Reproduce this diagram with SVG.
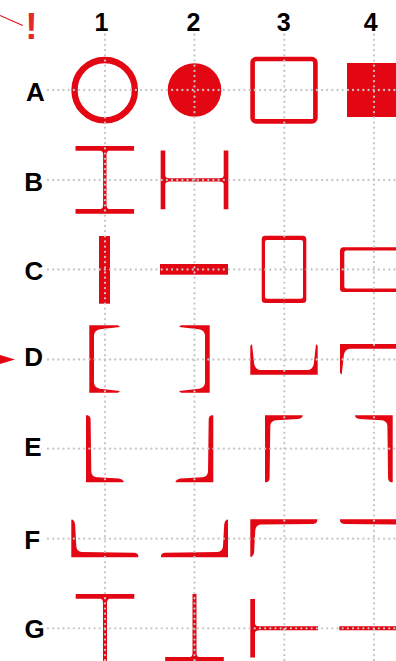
<svg xmlns="http://www.w3.org/2000/svg" width="396" height="661" viewBox="0 0 396 661">
<style>
.s{fill:#e30613}
.o{fill:none;stroke:#e30613}
.g{fill:none;stroke:#c6c6c6;stroke-width:2.3;stroke-linecap:round;stroke-dasharray:0 5.17}
.t{font-family:"Liberation Sans",Arial,sans-serif;font-weight:700;font-size:26px;fill:#000}
.n{text-anchor:middle;font-size:25px}
</style>
<defs>
<path id="ch" class="s" d="M0 0H28.7L30.7 1.7 10.7 3.9Q5.2 4.9 4.7 9.9V57.5Q5.2 62.5 10.7 63.5L30.7 65.7 28.7 67.4H0Z"/>
<path id="an" class="s" d="M0 0H37Q38 0 37.7 1 36.5 3.4 33 3.8L11 5Q5.8 5.5 5.3 10.5L4.6 63Q4.3 66.5 1.5 67H0Z"/>
<path id="is" class="s" d="M-29.3 -33.85H29.3V-29.2H4.2Q1.7 -28.8 1.7 -25V25Q1.7 28.8 4.2 29.2H29.3V33.85H-29.3V29.2H-4.2Q-1.7 28.8 -1.7 25V-25Q-1.7 -28.8 -4.2 -29.2H-29.3Z"/>
<path id="te" class="s" d="M-29.3 0H29.3V4.7H4.5Q2 5 2 9V67.7H-2V9Q-2 5 -4.5 4.7H-29.3Z"/>
<path id="rb" class="s" fill-rule="evenodd" d="M3.5 0H41.1Q44.6 0 44.6 3.5V63.8Q44.6 67.3 41.1 67.3H3.5Q0 67.3 0 63.8V3.5Q0 0 3.5 0ZM5.3 4.3Q3.3 4.3 3.3 6.3V61Q3.3 63 5.3 63H39.3Q41.3 63 41.3 61V6.3Q41.3 4.3 39.3 4.3Z"/>
</defs>
<g id="A1"><circle class="o" cx="104.7" cy="90.2" r="30.2" stroke-width="6.4"/></g>
<g id="A2"><circle class="s" cx="194.5" cy="90" r="26.8"/></g>
<g id="A3"><rect class="o" x="252.6" y="59" width="62.8" height="62.4" rx="3.5" stroke-width="4.6"/></g>
<g id="A4"><rect class="s" x="347" y="63" width="54" height="54"/></g>
<g id="B1"><use href="#is" transform="translate(104.8 179.85)"/></g>
<g id="B2"><use href="#is" transform="translate(194.5 179.85) rotate(90)"/></g>
<g id="C1"><rect class="s" x="99" y="236" width="11" height="67.7"/></g>
<g id="C2"><rect class="s" x="160" y="264" width="68" height="10.7"/></g>
<g id="C3"><use href="#rb" transform="translate(261.7 235.7)"/></g>
<g id="C4"><use href="#rb" transform="matrix(0 1 1 0 340 247.3)"/></g>
<g id="D1"><use href="#ch" transform="translate(89.3 325.3)"/></g>
<g id="D2"><use href="#ch" transform="matrix(-1 0 0 1 209.7 325.3)"/></g>
<g id="D3"><use href="#ch" transform="matrix(0 -1 1 0 250.3 374.7)"/></g>
<g id="D4"><use href="#ch" transform="matrix(0 1 1 0 340 344)"/></g>
<g id="E1"><use href="#an" transform="matrix(1 0 0 -1 86 482.3)"/></g>
<g id="E2"><use href="#an" transform="matrix(-1 0 0 -1 213.3 482.3)"/></g>
<g id="E3"><use href="#an" transform="translate(265 415.3)"/></g>
<g id="E4"><use href="#an" transform="matrix(-1 0 0 1 392.7 415.3)"/></g>
<g id="F1"><use href="#an" transform="matrix(0 -1 1 0 71.3 557.3)"/></g>
<g id="F2"><use href="#an" transform="matrix(0 -1 -1 0 228 557.3)"/></g>
<g id="F3"><use href="#an" transform="matrix(0 1 1 0 250.3 519.3)"/></g>
<g id="F4"><use href="#an" transform="matrix(0 1 -1 0 407 519.3)"/></g>
<g id="G1"><use href="#te" transform="translate(105 594)"/></g>
<g id="G2"><use href="#te" transform="translate(194.5 661.7) rotate(180)"/></g>
<g id="G3"><use href="#te" transform="translate(250.3 628.3) rotate(-90)"/></g>
<g id="G4"><use href="#te" transform="translate(407 628.3) rotate(90)"/></g>
<g id="connectors">
<path class="g" d="M105 34.7V661M194.5 34.7V661M284.3 34.7V661M374 34.7V661"/>
<path class="g" d="M48 90H396M48 180H396M48 269.5H396M48 359.5H396M48 448.7H396M48 538.7H396M48 628.3H396"/>
<path d="M0 15.5L22.7 25.5" fill="none" stroke="#e30613" stroke-width="1.1"/>
<path class="s" d="M0 355L15 359.5 0 364Z"/>
</g>
<g id="labels">
<text class="t n" x="101.5" y="30.7">1</text>
<text class="t n" x="193.5" y="30.7">2</text>
<text class="t n" x="283.7" y="30.7">3</text>
<text class="t n" x="370.7" y="30.7">4</text>
<text class="t" x="26" y="100.5">A</text>
<text class="t" x="24.2" y="190.5">B</text>
<text class="t" x="24.5" y="279.5">C</text>
<text class="t" x="24.2" y="366.2">D</text>
<text class="t" x="24.2" y="455.8">E</text>
<text class="t" x="24.2" y="548.5">F</text>
<text class="t" x="24.5" y="637.8">G</text>
<text x="31.5" y="39" text-anchor="middle" style="font-family:'Liberation Sans',Arial,sans-serif;font-weight:700;font-size:37px;fill:#e6282a">!</text>
</g>
</svg>
